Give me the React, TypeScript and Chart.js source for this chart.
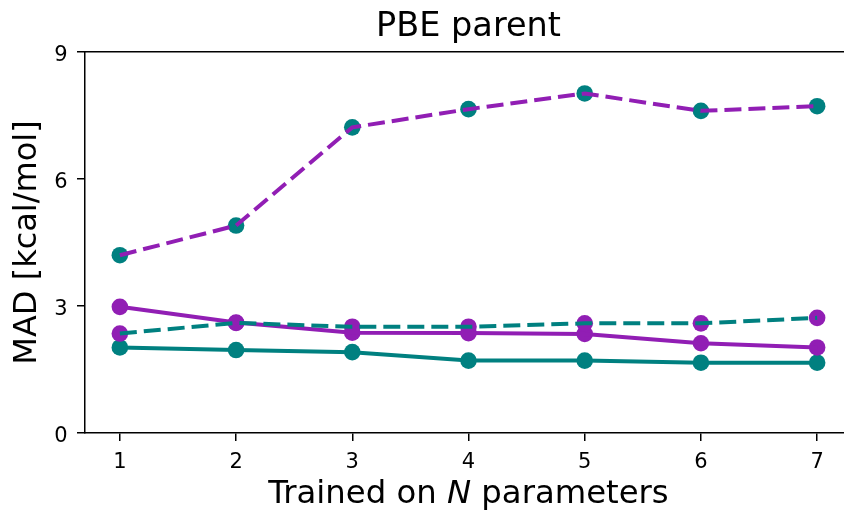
import React, { useEffect, useRef } from "react";
import { Chart, registerables } from "chart.js";

Chart.register(...registerables);

// Number of trained parameters (x) and MAD values in kcal/mol (y)
const nParams = [1, 2, 3, 4, 5, 6, 7];
const purpleDashed = [4.2, 4.9, 7.22, 7.65, 8.02, 7.61, 7.72];
const purpleSolid = [2.98, 2.61, 2.37, 2.36, 2.34, 2.12, 2.02];
const tealDashed = [2.35, 2.6, 2.51, 2.51, 2.59, 2.59, 2.72];
const tealSolid = [2.02, 1.96, 1.91, 1.71, 1.71, 1.66, 1.66];

const xTicks = [1, 2, 3, 4, 5, 6, 7];
const yTicks = [0, 3, 6, 9];

const titleText = "PBE parent";
const yTitleText = "MAD [kcal/mol]";
const xTitleParts = [
  { text: "Trained on ", italic: false },
  { text: "N", italic: true },
  { text: " parameters", italic: false },
];

const PURPLE = "#911eb4";
const TEAL = "#008080";
const FONT = "'DejaVu Sans', sans-serif";
const TICK_SIZE = 21;
const LABEL_SIZE = 32.3;
const TITLE_SIZE = 33.5;
const TICK_LEN = 8;

const toPoints = (ys: number[]) => nParams.map((x, i) => ({ x, y: ys[i] }));

// Tick labels placed on the alphabetic baseline so digits sit centred on their ticks
const tickLabelPlugin = {
  id: "tickLabels",
  afterDraw(chart: any) {
    const { ctx } = chart;
    const xs = chart.scales.x;
    const ys = chart.scales.y;
    const digitHalf = TICK_SIZE * 0.729 * 0.5;
    ctx.save();
    ctx.fillStyle = "#000";
    ctx.font = `${TICK_SIZE}px ${FONT}`;
    ctx.textBaseline = "alphabetic";

    ctx.textAlign = "center";
    const xBase = xs.top + TICK_LEN + 11.5 + TICK_SIZE * 0.729;
    xTicks.forEach((v) => {
      ctx.fillText(String(v), xs.getPixelForValue(v), xBase);
    });

    ctx.textAlign = "right";
    const yRight = ys.right - TICK_LEN - 9.5;
    yTicks.forEach((v) => {
      ctx.fillText(String(v), yRight, ys.getPixelForValue(v) + 1.2 + digitHalf);
    });
    ctx.restore();
  },
};

// Axis title below the x axis, with an italic "N"
const xTitlePlugin = {
  id: "xTitleMixed",
  afterDraw(chart: any) {
    const { ctx, chartArea } = chart;
    const scale = chart.scales.x;
    const y = scale.bottom - (LABEL_SIZE * 1.2) / 2;
    const cx = (chartArea.left + chartArea.right) / 2;
    ctx.save();
    ctx.fillStyle = "#000";
    ctx.textBaseline = "middle";
    ctx.textAlign = "left";
    const fontOf = (italic: boolean) =>
      `${italic ? "italic " : ""}${LABEL_SIZE}px ${FONT}`;
    let total = 0;
    const widths = xTitleParts.map((p) => {
      ctx.font = fontOf(p.italic);
      const w = ctx.measureText(p.text).width;
      total += w;
      return w;
    });
    let x = cx - total / 2;
    xTitleParts.forEach((p, i) => {
      ctx.font = fontOf(p.italic);
      ctx.fillText(p.text, x, y);
      x += widths[i];
    });
    ctx.restore();
  },
};

// Keep the plot area fixed: no extra room reserved for edge labels
const noEdgePadding = (axis: any) => {
  axis.paddingLeft = 0;
  axis.paddingRight = 0;
  axis.paddingTop = 0;
  axis.paddingBottom = 0;
};

export default function App() {
  const canvasRef = useRef<HTMLCanvasElement | null>(null);

  useEffect(() => {
    const canvas = canvasRef.current;
    if (!canvas) return;

    const lineDs = (label: string, ys: number[], color: string, dashed: boolean, order: number) => ({
      label,
      data: toPoints(ys),
      borderColor: color,
      backgroundColor: color,
      borderWidth: 4,
      borderDash: dashed ? [17, 7] : [],
      pointRadius: 0,
      pointHoverRadius: 0,
      tension: 0,
      fill: false,
      order,
    });

    const markerDs = (label: string, ys: number[], color: string, order: number) => ({
      label,
      data: toPoints(ys),
      showLine: false,
      borderColor: color,
      backgroundColor: color,
      pointBackgroundColor: color,
      pointBorderColor: color,
      pointBorderWidth: 0,
      pointRadius: 8.3,
      pointHoverRadius: 8.3,
      order,
    });

    const tickGrid = {
      drawOnChartArea: false,
      drawTicks: true,
      tickLength: TICK_LEN,
      tickColor: "#000",
      tickWidth: 1.5,
      color: "#000",
      lineWidth: 1.5,
    };

    const chart = new Chart(canvas, {
      type: "line",
      data: {
        datasets: [
          lineDs("Teal dashed", tealDashed, TEAL, true, 0),
          lineDs("Purple solid", purpleSolid, PURPLE, false, 1),
          lineDs("Teal solid", tealSolid, TEAL, false, 2),
          lineDs("Purple dashed", purpleDashed, PURPLE, true, 3),
          markerDs("Teal dashed points", tealDashed, PURPLE, 10),
          markerDs("Purple solid points", purpleSolid, PURPLE, 11),
          markerDs("Teal solid points", tealSolid, TEAL, 12),
          markerDs("Purple dashed points", purpleDashed, TEAL, 13),
        ],
      },
      options: {
        responsive: false,
        animation: false,
        devicePixelRatio: 1,
        layout: { padding: 0, autoPadding: false },
        plugins: {
          legend: { display: false },
          tooltip: { enabled: false },
          title: { display: false },
        },
        scales: {
          x: {
            type: "linear",
            position: "bottom",
            min: 0.7,
            max: 7.3,
            afterBuildTicks: (axis: any) => {
              axis.ticks = xTicks.map((v) => ({ value: v }));
            },
            afterFit: (axis: any) => {
              axis.height = 81;
              noEdgePadding(axis);
            },
            ticks: { display: false },
            grid: tickGrid,
            border: { display: true, color: "#000", width: 1.5 },
            title: { display: false },
          },
          xTop: {
            type: "linear",
            axis: "x",
            position: "top",
            min: 0.7,
            max: 7.3,
            afterFit: (axis: any) => {
              axis.height = 52;
              noEdgePadding(axis);
            },
            ticks: { display: false },
            grid: { display: false, drawTicks: false },
            border: { display: true, color: "#000", width: 1.5 },
            title: {
              display: true,
              text: titleText,
              color: "#000",
              padding: { top: 7, bottom: 0 },
              font: { family: FONT, size: TITLE_SIZE, weight: "normal" },
            },
          },
          y: {
            type: "linear",
            position: "left",
            min: 0,
            max: 9,
            afterBuildTicks: (axis: any) => {
              axis.ticks = yTicks.map((v) => ({ value: v }));
            },
            afterFit: (axis: any) => {
              axis.width = 85;
              noEdgePadding(axis);
            },
            ticks: { display: false },
            grid: tickGrid,
            border: { display: true, color: "#000", width: 1.5 },
            title: {
              display: true,
              text: yTitleText,
              color: "#000",
              padding: { top: 8, bottom: 0 },
              font: { family: FONT, size: 32, weight: "normal" },
            },
          },
        },
      },
      plugins: [tickLabelPlugin, xTitlePlugin],
    } as any);

    return () => chart.destroy();
  }, []);

  return (
    <div
      style={{
        position: "fixed",
        left: 0,
        top: 0,
        width: 844,
        height: 514,
        overflow: "hidden",
        background: "#fff",
      }}
    >
      <canvas ref={canvasRef} width={852} height={514} style={{ display: "block" }} />
    </div>
  );
}
